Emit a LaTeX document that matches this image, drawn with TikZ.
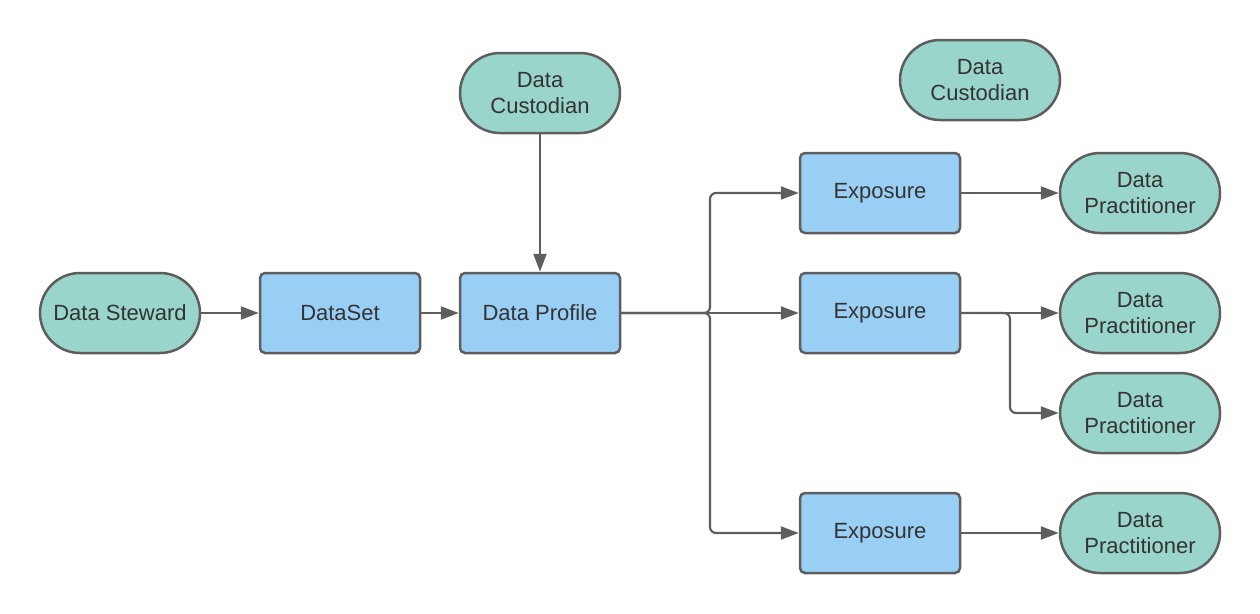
\documentclass[tikz,border=0pt]{standalone}
\usepackage{fontspec}
\setmainfont{Liberation Sans}
\usetikzlibrary{arrows.meta}

\definecolor{tealfill}{HTML}{99D5CA}
\definecolor{bluefill}{HTML}{99CFF5}
\definecolor{edgegray}{HTML}{5E5E5E}
\definecolor{textgray}{HTML}{333333}

\tikzset{
  box/.style={draw=edgegray, line width=2.5pt, rounded corners=5pt,
    minimum width=160pt, minimum height=80pt, align=center,
    text=textgray, font=\fontsize{22}{26}\selectfont},
  person/.style={box, fill=tealfill, rounded corners=40pt},
  stage/.style={box, fill=bluefill},
  flow/.style={draw=edgegray, line width=2.2pt, rounded corners=6pt,
    -{Triangle[length=18pt,width=13pt]}}
}

\begin{document}
\begin{tikzpicture}[x=1pt,y=-1pt]
    \path[use as bounding box] (0,0) rectangle (1260,613);
    % Left chain.
    \node[person] (steward) at (120,313) {Data Steward};
    \node[stage] (dataset) at (340,313) {DataSet};
    \node[stage] (profile) at (540,313) {Data Profile};
    \node[person] (custodian) at (540,93) {Data\\Custodian};
    \node[person] (custodian2) at (980,80) {Data\\Custodian};
    % Exposures.
    \node[stage] (expo1) at (880,193) {Exposure};
    \node[stage] (expo2) at (880,313) {Exposure};
    \node[stage] (expo3) at (880,533) {Exposure};
    % Practitioners.
    \foreach \n/\y in {1/193, 2/313, 3/413, 4/533}
      \node[person] (prac\n) at (1140,\y) {Data\\Practitioner};
    % Split points.
    \coordinate (split) at (710,313);
    \coordinate (split2) at (1010,313);
    % Connectors.
    \draw[flow] (steward.east) -- (dataset.west);
    \draw[flow] (dataset.east) -- (profile.west);
    \draw[flow] (custodian.south) -- (profile.north);
    \draw[flow] (profile.east) -- (expo2.west);
    \draw[flow] (profile.east) -- (split) |- (expo1.west);
    \draw[flow] (profile.east) -- (split) |- (expo3.west);
    \draw[flow] (expo1.east) -- (prac1.west);
    \draw[flow] (expo2.east) -- (prac2.west);
    \draw[flow] (expo2.east) -- (split2) |- (prac3.west);
    \draw[flow] (expo3.east) -- (prac4.west);
\end{tikzpicture}
\end{document}
